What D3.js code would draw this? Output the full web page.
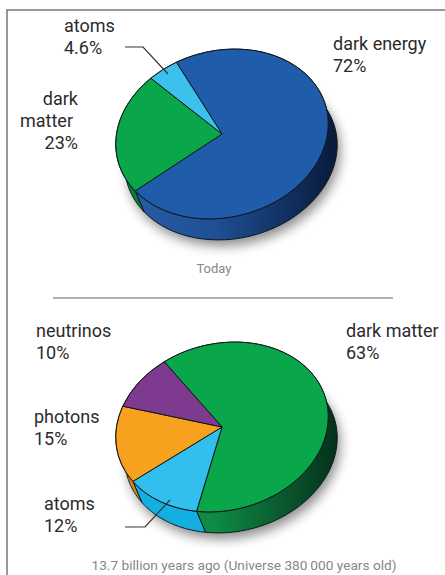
<!DOCTYPE html>
<html>
<head>
<meta charset="utf-8">
<script src="https://cdn.jsdelivr.net/npm/d3@7/dist/d3.min.js"></script>
<style>
  html, body { margin: 0; padding: 0; background: #fff; }
  svg { display: block; }
  text { font-family: Roboto, "Noto Sans", sans-serif; }
</style>
</head>
<body>
<svg id="chart" width="445" height="575"></svg>
<script>
// Composition of the Universe, today and at 380 000 years
const todayNames = ["dark energy", "dark matter", "atoms"];
const todayValues = [72, 23, 4.6];
const todayColors = ["#1f5caa", "#0aa64a", "#3cc0ec"];
const todayWalls = [["#2a5fa8", "#1f4f96", "#071a38"], ["#0a7a38", "#0a7a38", "#054020"], ["#2aa8d8", "#2aa8d8", "#2aa8d8"]];

const earlyNames = ["dark matter", "atoms", "photons", "neutrinos"];
const earlyValues = [63, 12, 15, 10];
const earlyColors = ["#0aa64a", "#33bfee", "#f7a11f", "#7e3a8e"];
const earlyWalls = [["#12924a", "#0f8a44", "#04301a"], ["#12b0e2", "#12b0e2", "#12b0e2"], ["#d98a18", "#d98a18", "#d98a18"], ["#5e2a6e", "#5e2a6e", "#5e2a6e"]];

const todayLabelLines = [
  { lines: ["atoms", "4.6%"], x: 64, y: 32, anchor: "start" },
  { lines: ["dark energy", "72%"], x: 333, y: 50, anchor: "start" },
  { lines: ["dark", "matter", "23%"], x: [78, 73, 78], y: 105, anchor: "end" }
];
const earlyLabelLines = [
  { lines: ["neutrinos", "10%"], x: 36, y: 337, anchor: "start" },
  { lines: ["dark matter", "63%"], x: 346, y: 337, anchor: "start" },
  { lines: ["photons", "15%"], x: 34, y: 423, anchor: "start" },
  { lines: ["atoms", "12%"], x: 44, y: 510, anchor: "start" }
];

const radius = 107.5;
const flatten = 0.775;
const tiltDeg = -14;
const depth = { x: 9, y: 21 };
const deg = Math.PI / 180;

const svg = d3.select("#chart");
const defs = svg.append("defs");
defs.append("filter").attr("id", "soft")
  .attr("x", "-30%").attr("y", "-30%").attr("width", "160%").attr("height", "160%")
  .append("feGaussianBlur").attr("stdDeviation", 6);

// Circle angle (clockwise from twelve o'clock) to page position on the tilted disc
function project(angle, cx, cy) {
  const px = radius * Math.sin(angle);
  const py = -radius * Math.cos(angle) * flatten;
  const t = tiltDeg * deg;
  return [cx + px * Math.cos(t) - py * Math.sin(t), cy + px * Math.sin(t) + py * Math.cos(t)];
}

function drawPie(id, values, colors, walls, cx, cy, startDeg) {
  const pie = d3.pie().sort(null).startAngle(startDeg * deg).endAngle((startDeg + 360) * deg);
  const arcs = pie(values);
  const root = svg.append("g");

  // Soft shadow falling behind the disc
  root.append("ellipse")
    .attr("rx", radius).attr("ry", radius * flatten)
    .attr("transform", `translate(${cx + depth.x + 3},${cy + depth.y + 6}) rotate(${tiltDeg})`)
    .attr("fill", "#000").attr("opacity", 0.45)
    .attr("filter", "url(#soft)");

  // Side wall of each slice, dropped from its rim, shaded left to right
  const line = d3.line();
  arcs.forEach((a, i) => {
    const grad = defs.append("linearGradient").attr("id", `${id}-wall-${i}`)
      .attr("gradientUnits", "userSpaceOnUse")
      .attr("x1", cx - radius).attr("x2", cx + radius + depth.x).attr("y1", 0).attr("y2", 0);
    grad.selectAll("stop").data([[0, walls[i][0]], [0.45, walls[i][1]], [1, walls[i][2]]]).join("stop")
      .attr("offset", d => d[0]).attr("stop-color", d => d[1]);
    const steps = d3.range(0, 61).map(s => a.startAngle + (a.endAngle - a.startAngle) * s / 60);
    const upper = steps.map(s => project(s, cx, cy));
    const lower = upper.map(p => [p[0] + depth.x, p[1] + depth.y]).reverse();
    root.append("path")
      .attr("d", line(upper.concat(lower)) + "Z")
      .attr("fill", `url(#${id}-wall-${i})`)
      .attr("stroke", "#10181c").attr("stroke-width", 1).attr("stroke-linejoin", "round");
  });

  // Top face
  const arc = d3.arc().innerRadius(0).outerRadius(radius);
  root.append("g")
    .attr("transform", `translate(${cx},${cy}) rotate(${tiltDeg}) scale(1,${flatten})`)
    .selectAll("path").data(arcs).join("path")
    .attr("d", arc)
    .attr("fill", (d, i) => colors[i])
    .attr("stroke", "#10181c").attr("stroke-width", 1)
    .attr("stroke-linejoin", "round")
    .attr("vector-effect", "non-scaling-stroke");
}

drawPie("today", todayValues, todayColors, todayWalls, 222, 134, -14.5);
drawPie("early", earlyValues, earlyColors, earlyWalls, 222, 427, -22);

// Frame and divider
svg.append("path").attr("d", "M7,575V10H445").attr("fill", "none").attr("stroke", "#77787a").attr("stroke-width", 1.5);
svg.append("line").attr("x1", 53).attr("x2", 393).attr("y1", 298).attr("y2", 298)
  .attr("stroke", "#b6aea8").attr("stroke-width", 2);

// Leaders
const leader = d3.line();
[[[125, 47], [143, 47], [168, 74]], [[125, 527], [145, 527], [170, 500]]].forEach(pts => {
  svg.append("path").attr("d", leader(pts)).attr("fill", "none")
    .attr("stroke", "#3a3433").attr("stroke-width", 1.2);
});

// Labels
todayLabelLines.concat(earlyLabelLines).forEach(l => {
  l.lines.forEach((t, i) => {
    svg.append("text")
      .attr("x", Array.isArray(l.x) ? l.x[i] : l.x)
      .attr("y", l.y + i * 22)
      .attr("text-anchor", l.anchor)
      .attr("font-size", 18)
      .attr("fill", "#2b2b2d")
      .text(t);
  });
});

svg.append("text").attr("x", 214).attr("y", 273).attr("text-anchor", "middle")
  .attr("font-size", 13).attr("fill", "#85878a").text("Today");
svg.append("text").attr("x", 244).attr("y", 570).attr("text-anchor", "middle")
  .attr("font-size", 13.7).attr("fill", "#85878a").text("13.7 billion years ago (Universe 380\u2009000 years old)");
</script>
</body>
</html>
